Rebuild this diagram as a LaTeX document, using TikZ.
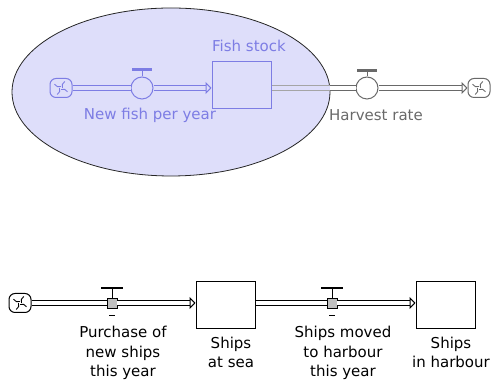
\documentclass[tikz,border=0pt]{standalone}
\usepackage{fontspec}
\setmainfont{DejaVu Sans}
\usetikzlibrary{positioning,calc,arrows.meta}

\definecolor{lav}{RGB}{222,222,250}
\definecolor{flowblue}{RGB}{125,125,228}
\definecolor{flowgray}{RGB}{105,105,105}

\tikzset{
  lbl/.style={font=\fontsize{15}{19.5}\selectfont, inner sep=1pt, align=center},
  pipe/.style={double, line width=1pt, double distance=3.2pt},
  pipetip/.style={-{Triangle[open,length=6pt,width=12pt]}},
  stock/.style={draw, line width=1pt, minimum width=59pt, minimum height=47pt, inner sep=0pt},
  valve/.style={draw, circle, line width=1pt, minimum size=22pt, inner sep=0pt},
  gate/.style={draw, line width=0.8pt, fill=black!25, minimum size=10pt, inner sep=0pt},
  cloud/.style={draw, rounded corners=6pt, line width=1pt, minimum width=22pt,
    minimum height=19pt, inner sep=0pt,
    path picture={\foreach \a in {0,90,180,270}
      \draw[line width=0.9pt] ([shift={(\a:1.5pt)}]path picture bounding box.center)
        to[bend left=40] ([shift={(\a+60:7.5pt)}]path picture bounding box.center);}}
}

\begin{document}
\begin{tikzpicture}[x=1pt,y=1pt]
\useasboundingbox (0,0) rectangle (491,382);

% fish model
\draw[fill=lav, draw=black!85, line width=0.8pt] (171,290) ellipse [x radius=159, y radius=84];

\node[cloud, flowblue] (spring) at (61,294) {};
\node[valve, flowblue] (newfish) at (142,294) {};
\node[stock, flowblue] (fish) at (241.5,296.5) {};
\node[valve, flowgray] (harvest) at (367,294) {};
\node[cloud, flowgray] (sink) at (479,294) {};
\coordinate (rim) at (330,294);

\node[lbl, flowblue] (fishlbl) at (249,336) {Fish stock};
\node[lbl, flowblue] (newfishlbl) at (150,267) {New fish per year};
\node[lbl, flowgray] (harvestlbl) at (376,267) {Harvest rate};

% valve handles
\draw[flowblue, line width=1pt] (newfish.north) -- ++(0,7);
\draw[flowblue, line width=3pt] ([shift={(-10,7)}]newfish.north) -- ++(20,0);
\draw[flowgray, line width=1pt] (harvest.north) -- ++(0,6);
\draw[flowgray, line width=3pt] ([shift={(-10,6)}]harvest.north) -- ++(20,0);

% flows
\draw[pipe, flowblue, double=lav] (spring) -- (newfish);
\draw[pipe, pipetip, flowblue, double=lav] (newfish) -- (newfish -| fish.west);
\draw[pipe, flowgray!60, double=lav] (harvest -| fish.east) -- (rim);
\draw[pipe, flowgray, double=white] (rim) -- (harvest);
\draw[pipe, pipetip, flowgray, double=white] (harvest) -- (sink);

% ship model
\node[cloud] (yard) at (20,79) {};
\node[gate] (buy) at (112,79) {};
\node[stock] (sea) at (225.5,77) {};
\node[gate] (move) at (332,79) {};
\node[stock] (harbour) at (445.5,77) {};

\node[lbl] (buylbl) at (123,29) {Purchase of\\new ships\\this year};
\node[lbl] (sealbl) at (231,29.5) {Ships\\at sea};
\node[lbl] (movelbl) at (343,29) {Ships moved\\to harbour\\this year};
\node[lbl] (harbourlbl) at (451,29.5) {Ships\\in harbour};

% gate handles
\foreach \g in {buy,move}{
  \draw[line width=0.8pt] (\g.north) -- ++(0,9.5);
  \draw[line width=2.5pt] ([shift={(-11,9.5)}]\g.north) -- ++(22,0);
  \draw[line width=1.5pt] ([shift={(-3,-7)}]\g.south) -- ++(6,0);
}

% flows
\draw[pipe, double=white] (yard) -- (buy);
\draw[pipe, pipetip, double=white] (buy) -- (buy -| sea.west);
\draw[pipe, double=white] (move -| sea.east) -- (move);
\draw[pipe, pipetip, double=white] (move) -- (move -| harbour.west);

\end{tikzpicture}
\end{document}
